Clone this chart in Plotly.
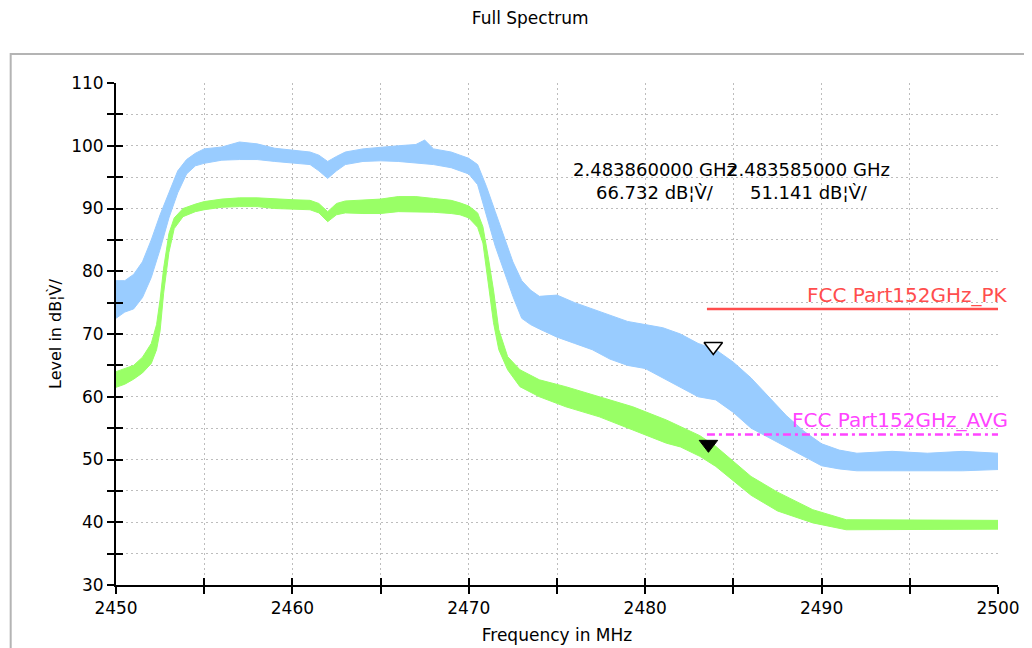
import plotly.graph_objects as go

# ---------------- data ----------------
peak_freq = [2450.0, 2450.5, 2451.0, 2451.5, 2452.0, 2452.5, 2453.0, 2453.5, 2454.0, 2454.5,
             2455.0, 2456.0, 2457.0, 2458.0, 2459.0, 2460.0, 2461.0, 2461.5, 2462.0, 2462.5,
             2463.0, 2464.0, 2465.0, 2466.0, 2467.0, 2467.5, 2468.0, 2469.0, 2469.5, 2470.0,
             2470.5, 2471.0, 2471.5, 2472.0, 2472.5, 2473.0, 2473.5, 2474.0, 2475.0, 2476.0,
             2477.0, 2478.0, 2479.0, 2480.0, 2481.0, 2482.0, 2483.0, 2484.0, 2485.0, 2486.0,
             2487.0, 2488.0, 2489.0, 2490.0, 2491.0, 2492.0, 2494.0, 2496.0, 2498.0, 2500.0]
peak_low = [72.5, 73.5, 74.0, 75.8, 79.0, 83.5, 88.5, 92.5, 95.5, 96.8,
            97.2, 97.7, 97.8, 97.8, 97.5, 97.3, 97.0, 96.0, 94.8, 96.0,
            97.0, 97.5, 97.6, 97.5, 97.3, 97.2, 97.0, 96.5, 96.0, 95.5,
            93.8, 88.7, 84.0, 80.0, 76.0, 72.5, 71.5, 70.8, 69.5, 68.5,
            67.5, 66.0, 65.0, 64.5, 63.0, 61.5, 60.0, 59.5, 57.5, 55.0,
            53.5, 52.0, 50.5, 49.0, 48.5, 48.2, 48.2, 48.2, 48.2, 48.4]
peak_high = [78.5, 78.5, 79.5, 81.5, 85.0, 89.0, 92.5, 96.0, 97.8, 98.8,
             99.5, 99.8, 100.6, 100.3, 99.6, 99.3, 99.0, 98.5, 97.5, 98.3,
             99.0, 99.5, 99.8, 100.0, 100.2, 100.9, 99.5, 99.0, 98.5, 98.0,
             97.0, 93.5, 89.5, 85.5, 81.5, 78.5, 77.0, 76.0, 76.2, 75.0,
             74.0, 73.0, 72.0, 71.5, 71.0, 70.0, 68.5, 67.5, 65.5, 63.0,
             60.0, 57.0, 54.5, 52.5, 51.5, 51.0, 51.3, 51.0, 51.3, 51.0]

avg_freq = [2450.0, 2450.5, 2451.0, 2451.5, 2452.0, 2452.3, 2452.5, 2452.7, 2453.0, 2453.3,
            2453.8, 2454.5, 2455.0, 2456.0, 2457.0, 2458.0, 2459.0, 2460.0, 2461.0, 2461.5,
            2462.0, 2462.5, 2463.0, 2464.0, 2465.0, 2466.0, 2467.0, 2468.0, 2469.0, 2469.5,
            2470.0, 2470.5, 2470.8, 2471.1, 2471.4, 2471.7, 2472.2, 2472.9, 2474.0, 2475.5,
            2477.4, 2479.3, 2481.2, 2482.0, 2483.1, 2484.0, 2486.0, 2487.5, 2489.5, 2491.4,
            2493.0, 2495.0, 2497.0, 2500.0]
avg_low = [61.5, 62.0, 62.8, 63.8, 65.3, 67.5, 70.5, 76.5, 83.0, 86.8,
           88.7, 89.5, 89.8, 90.2, 90.3, 90.3, 90.0, 89.9, 89.8, 89.3,
           87.9, 89.0, 89.3, 89.2, 89.2, 89.5, 89.5, 89.4, 89.2, 89.0,
           88.5, 87.0, 84.5, 78.1, 71.8, 67.5, 64.3, 61.6, 60.0, 58.4,
           56.8, 54.7, 52.6, 52.0, 50.5, 48.9, 44.3, 41.8, 39.9, 38.8,
           38.8, 38.8, 38.8, 38.9]
avg_high = [64.0, 64.5, 65.0, 66.3, 68.5, 71.5, 75.5, 80.5, 86.0, 88.5,
            90.0, 90.7, 91.1, 91.5, 91.7, 91.7, 91.5, 91.4, 91.3, 90.8,
            89.5, 90.8, 91.2, 91.3, 91.5, 91.9, 91.9, 91.6, 91.3, 90.9,
            90.4, 89.3, 87.1, 82.3, 77.0, 70.7, 66.4, 64.3, 62.7, 61.6,
            60.0, 58.4, 56.3, 55.3, 53.8, 52.1, 47.3, 44.8, 42.0, 40.4,
            40.4, 40.4, 40.4, 40.3]

limit_freq = [2483.5, 2500.0]
pk_limit = [74.0, 74.0]
avg_limit = [54.0, 54.0]

marker_freq = [2483.860, 2483.585]
marker_level = [66.732, 51.141]
marker_text = ["2.483860000 GHz<br>66.732 dB\u00a6V\u0300/",
               "2.483585000 GHz<br>51.141 dB\u00a6V\u0300/"]

x_range = [2450, 2500]
y_range = [30, 110]

# ---------------- style ----------------
# page body has an 8px margin, so the figure is sized/placed to compensate
W, H = 1024, 640
M_L, M_R, M_T, M_B = 108, 34, 75, 63
FONT = "DejaVu Sans, Verdana, sans-serif"
BLUE = "#99ccff"
GREEN = "#99ff66"
RED = "#ff4d4d"
MAGENTA = "#ff44ff"

fig = go.Figure()


def band(xs, lo, hi, color):
    fig.add_trace(go.Scatter(x=xs, y=lo, mode="lines", line=dict(color=color, width=1),
                             hoverinfo="skip", showlegend=False))
    fig.add_trace(go.Scatter(x=xs, y=hi, mode="lines", line=dict(color=color, width=1),
                             fill="tonexty", fillcolor=color, showlegend=False))


band(peak_freq, peak_low, peak_high, BLUE)
band(avg_freq, avg_low, avg_high, GREEN)

fig.add_trace(go.Scatter(x=limit_freq, y=pk_limit, mode="lines",
                         line=dict(color=RED, width=2.5), showlegend=False))
fig.add_trace(go.Scatter(x=limit_freq, y=avg_limit, mode="lines",
                         line=dict(color=MAGENTA, width=2.5, dash="8px,4px,3px,4px"),
                         showlegend=False))

# triangle markers: tip sits on the measured point
plot_h = H - M_T - M_B
px_per_db = plot_h / (y_range[1] - y_range[0])
msize = 16
shift = (msize / 2) / px_per_db
fig.add_trace(go.Scatter(x=[marker_freq[0]], y=[marker_level[0] + shift], mode="markers",
                         marker=dict(symbol="triangle-down", size=msize, color="white",
                                     line=dict(color="black", width=1.5)),
                         showlegend=False))
fig.add_trace(go.Scatter(x=[marker_freq[1]], y=[marker_level[1] + shift], mode="markers",
                         marker=dict(symbol="triangle-down", size=msize, color="black",
                                     line=dict(color="black", width=1)),
                         showlegend=False))

# empty trace to activate overlay axes (inner half of crossing ticks)
fig.add_trace(go.Scatter(x=[], y=[], xaxis="x2", yaxis="y2", showlegend=False))

grid = dict(showgrid=True, gridcolor="#bdbdbd", griddash="2px,3px", gridwidth=1)

fig.update_layout(
    width=W, height=H,
    margin=dict(l=M_L, r=M_R, t=M_T, b=M_B, autoexpand=False),
    paper_bgcolor="white", plot_bgcolor="white",
    showlegend=False,
    title=dict(text="Full Spectrum", x=0.51, xanchor="center", y=0.984, yanchor="middle",
               font=dict(family=FONT, size=17, color="black")),
    xaxis=dict(range=x_range, dtick=10, tick0=2450, ticks="outside", ticklen=7,
               tickwidth=2, tickcolor="black", showline=True, linecolor="black", linewidth=2,
               zeroline=False, automargin=False,
               tickfont=dict(family=FONT, size=17, color="black"),
               title=dict(text="Frequency in MHz", standoff=12,
                          font=dict(family=FONT, size=17, color="black")),
               minor=dict(dtick=5, tick0=2450, ticks="outside", ticklen=7, tickwidth=2,
                          tickcolor="black", showgrid=True, gridcolor="#bdbdbd",
                          griddash="2px,3px", gridwidth=1),
               **grid),
    yaxis=dict(range=y_range, dtick=10, tick0=30, ticks="outside", ticklen=7,
               tickwidth=2, tickcolor="black", showline=True, linecolor="black", linewidth=2,
               zeroline=False, automargin=False,
               tickfont=dict(family=FONT, size=17, color="black"),
               title=dict(text="Level in dB\u00a6V\u0300/", standoff=6,
                          font=dict(family=FONT, size=16, color="black")),
               minor=dict(dtick=5, tick0=30, ticks="outside", ticklen=7, tickwidth=2,
                          tickcolor="black", showgrid=True, gridcolor="#bdbdbd",
                          griddash="2px,3px", gridwidth=1),
               **grid),
    xaxis2=dict(overlaying="x", anchor="y2", side="bottom", range=x_range, dtick=5, tick0=2450,
                ticks="inside", ticklen=7, tickwidth=2, tickcolor="black", automargin=False,
                showticklabels=False, showgrid=False, zeroline=False, showline=False),
    yaxis2=dict(overlaying="y", anchor="x2", side="left", range=y_range, dtick=5, tick0=30,
                ticks="inside", ticklen=7, tickwidth=2, tickcolor="black", automargin=False,
                showticklabels=False, showgrid=False, zeroline=False, showline=False),
)

# frame around chart area
fig.add_shape(type="rect", xref="paper", yref="paper",
              x0=-0.1194, x1=1.06, y0=-0.2, y1=1.0578,
              line=dict(color="#b4b4b4", width=2), fillcolor="rgba(0,0,0,0)", layer="below")

# marker readouts
fig.add_annotation(text=marker_text[0], xref="paper", yref="paper", x=0.611, y=0.805,
                   xanchor="center", yanchor="middle", showarrow=False, align="center",
                   font=dict(family=FONT, size=18, color="black"))
fig.add_annotation(text=marker_text[1], xref="paper", yref="paper", x=0.785, y=0.805,
                   xanchor="center", yanchor="middle", showarrow=False, align="center",
                   font=dict(family=FONT, size=18, color="black"))

# limit line labels
fig.add_annotation(text="FCC Part152GHz_PK", xref="paper", yref="y", x=1, y=pk_limit[-1],
                   xanchor="right", yanchor="bottom", xshift=12, yshift=0, showarrow=False,
                   font=dict(family=FONT, size=20, color=RED))
fig.add_annotation(text="FCC Part152GHz_AVG", xref="paper", yref="y", x=1, y=avg_limit[-1],
                   xanchor="right", yanchor="bottom", xshift=12, yshift=0, showarrow=False,
                   font=dict(family=FONT, size=20, color=MAGENTA))

fig.write_html("out.html")
